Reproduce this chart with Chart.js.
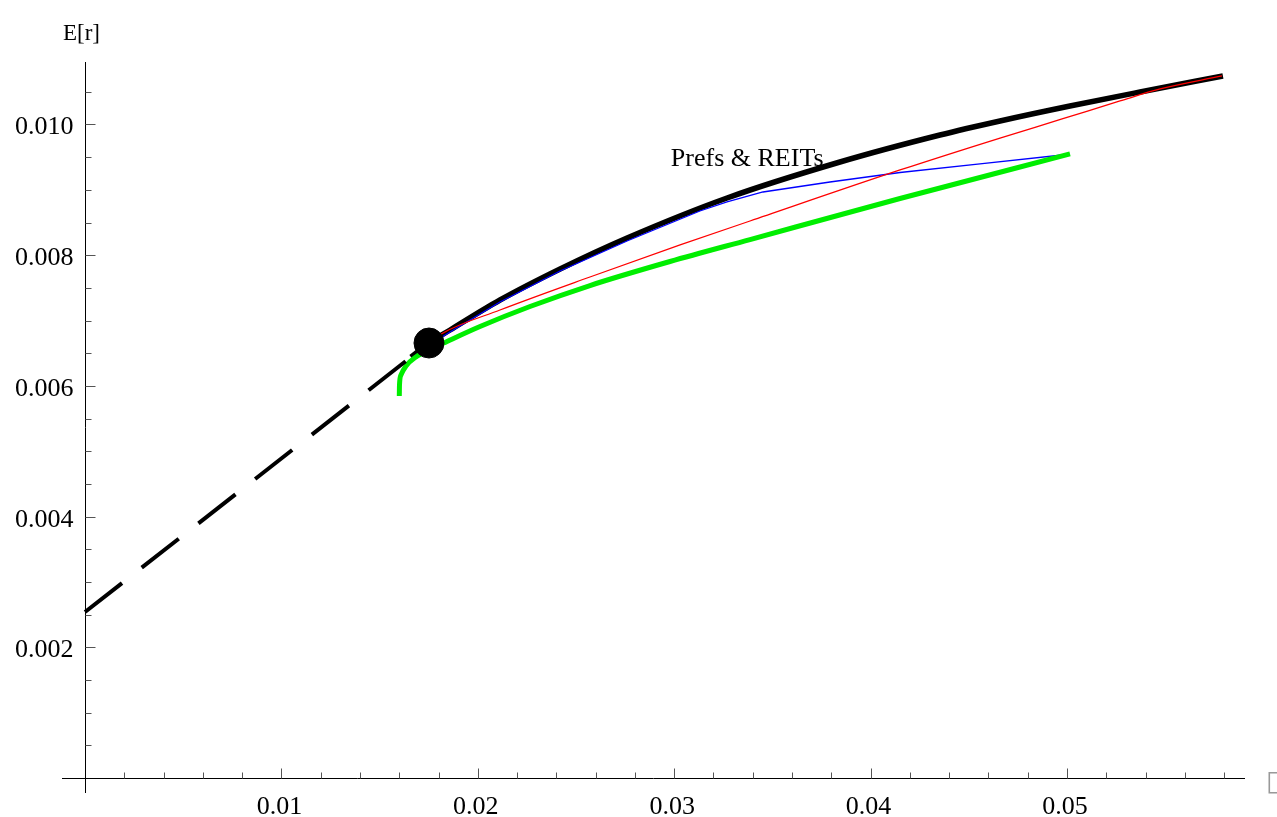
<!DOCTYPE html>
<html>
<head>
<meta charset="utf-8">
<script src="https://cdn.jsdelivr.net/npm/chart.js@4/dist/chart.umd.min.js"></script>
<style>
  html, body { margin: 0; background: #fff; }
  #wrap { width: 1277px; height: 817px; }
</style>
</head>
<body>
<div id="wrap"><canvas id="chart"></canvas></div>
<script>
// Efficient frontiers in (sigma, E[r]) space.
const allAssetsSigma = [0.0166, 0.01752, 0.01859, 0.02113, 0.02419, 0.0276, 0.03269, 0.03844, 0.04353, 0.04659, 0.05015, 0.05372, 0.05794];
const allAssetsMean  = [0.00644, 0.006656, 0.006855, 0.007314, 0.007789, 0.008263, 0.008875, 0.009426, 0.009839, 0.010054, 0.010283, 0.010497, 0.010742];

const prefsSigma = [0.0166, 0.01752, 0.01859, 0.02113, 0.02419, 0.0276, 0.03131, 0.03269, 0.03452, 0.03793, 0.0415, 0.04557, 0.04975];
const prefsMean  = [0.006412, 0.006626, 0.006825, 0.007284, 0.007758, 0.008217, 0.008676, 0.008814, 0.008967, 0.00912, 0.009265, 0.009396, 0.009533];

const reitsSigma = [0.01752, 0.01823, 0.02113, 0.02571, 0.0303, 0.03386, 0.0415, 0.04659, 0.04975, 0.0527, 0.05474, 0.05789];
const reitsMean  = [0.006656, 0.00681, 0.007161, 0.007666, 0.008156, 0.008523, 0.009304, 0.009793, 0.010084, 0.01036, 0.010543, 0.010742];

const baseSigma = [0.016003, 0.016013, 0.01609, 0.016344, 0.016853, 0.017566, 0.018432, 0.020112, 0.022658, 0.025713, 0.029786, 0.033859, 0.041497, 0.050153];
const baseMean  = [0.005845, 0.006014, 0.006167, 0.006305, 0.006442, 0.006557, 0.00668, 0.006909, 0.007215, 0.007536, 0.007903, 0.008239, 0.008867, 0.009549];

// capital market line: risk-free intercept to tangency portfolio
const cmlSigma = [0, 0.017515];
const cmlMean  = [0.00254, 0.006656];
const tangency = { x: 0.017515, y: 0.006656 };

const xMajor = [0.01, 0.02, 0.03, 0.04, 0.05];
const xLabels = ["0.01", "0.02", "0.03", "0.04", "0.05"];
const yMajor = [0.002, 0.004, 0.006, 0.008, 0.010];
const yLabels = ["0.002", "0.004", "0.006", "0.008", "0.010"];
const xMinorStep = 0.002;
const yMinorStep = 0.0005;

const annotation = { text: "Prefs & REITs", x: 0.02983, y: 0.009365 };

const pts = (xs, ys) => xs.map((x, i) => ({ x, y: ys[i] }));

const serif = "'Liberation Serif', 'Times New Roman', serif";

// Mathematica-style axes through the origin, ticks pointing inward
const axesPlugin = {
    id: "mmaAxes",
    beforeDatasetsDraw(chart) {
        const { ctx, chartArea: a } = chart;
        const xs = chart.scales.x, ys = chart.scales.y;
        const x0 = Math.round(xs.getPixelForValue(0)) + 0.5;
        const y0 = Math.round(ys.getPixelForValue(0)) + 0.5;
        ctx.save();
        ctx.lineWidth = 1;
        ctx.strokeStyle = "#000";
        ctx.beginPath();
        ctx.moveTo(a.left, y0); ctx.lineTo(a.right, y0);
        ctx.moveTo(x0, a.top); ctx.lineTo(x0, a.bottom);
        ctx.stroke();

        ctx.strokeStyle = "#555";
        ctx.beginPath();
        for (let v = xMinorStep; v < xs.max; v += xMinorStep) {
            const px = Math.round(xs.getPixelForValue(v)) + 0.5;
            const major = xMajor.some(m => Math.abs(m - v) < 1e-9);
            ctx.moveTo(px, y0); ctx.lineTo(px, y0 - (major ? 10 : 6));
        }
        for (let v = yMinorStep; v < ys.max; v += yMinorStep) {
            const py = Math.round(ys.getPixelForValue(v)) + 0.5;
            const major = yMajor.some(m => Math.abs(m - v) < 1e-9);
            ctx.moveTo(x0, py); ctx.lineTo(x0 + (major ? 10 : 6), py);
        }
        ctx.stroke();

        ctx.fillStyle = "#000";
        ctx.font = "26px " + serif;
        ctx.textAlign = "center";
        ctx.textBaseline = "alphabetic";
        xMajor.forEach((v, i) => ctx.fillText(xLabels[i], xs.getPixelForValue(v) - 2, y0 + 35));
        ctx.textAlign = "right";
        yMajor.forEach((v, i) => ctx.fillText(yLabels[i], x0 - 12, ys.getPixelForValue(v) + 10));

        ctx.textAlign = "left";
        ctx.font = "23px " + serif;
        ctx.fillText("E[r]", 63, 40);
        ctx.fillStyle = "#999";
        ctx.font = "28px 'DejaVu Sans'";
        ctx.fillText("\u25AF", 1266, 790);
        ctx.restore();
    },
    afterDatasetsDraw(chart) {
        const { ctx } = chart;
        ctx.save();
        ctx.fillStyle = "#000";
        ctx.font = "26px " + serif;
        ctx.textAlign = "left";
        ctx.textBaseline = "alphabetic";
        ctx.fillText(annotation.text,
            chart.scales.x.getPixelForValue(annotation.x),
            chart.scales.y.getPixelForValue(annotation.y));
        ctx.restore();
    }
};

new Chart(document.getElementById("chart"), {
    type: "scatter",
    data: {
        datasets: [
            { label: "tangency", data: [tangency], pointRadius: 15, pointHoverRadius: 15,
              backgroundColor: "#000", borderColor: "#000", order: 0 },
            { label: "CML", data: pts(cmlSigma, cmlMean), showLine: true, pointRadius: 0,
              borderColor: "#000", borderWidth: 4, borderDash: [47, 25], borderCapStyle: "butt", order: 1 },
            { label: "base", data: pts(baseSigma, baseMean), showLine: true, pointRadius: 0,
              borderColor: "#00ee00", borderWidth: 5, borderCapStyle: "butt",
              cubicInterpolationMode: "monotone", order: 2 },
            { label: "reits", data: pts(reitsSigma, reitsMean), showLine: true, pointRadius: 0,
              borderColor: "#ff0000", borderWidth: 1.3, cubicInterpolationMode: "monotone", order: 3 },
            { label: "prefs", data: pts(prefsSigma, prefsMean), showLine: true, pointRadius: 0,
              borderColor: "#0000ff", borderWidth: 1.3, tension: 0, order: 4 },
            { label: "all", data: pts(allAssetsSigma, allAssetsMean), showLine: true, pointRadius: 0,
              borderColor: "#000", borderWidth: 5.5, borderCapStyle: "butt",
              cubicInterpolationMode: "monotone", order: 5 },
        ]
    },
    options: {
        responsive: true,
        maintainAspectRatio: false,
        animation: false,
        events: [],
        layout: { autoPadding: false, padding: { left: 62, right: 32, top: 62, bottom: 24 } },
        plugins: { legend: { display: false }, tooltip: { enabled: false } },
        scales: {
            x: { type: "linear", display: false, min: -0.001171, max: 0.059063 },
            y: { type: "linear", display: false, min: -0.0002295, max: 0.010956 },
        }
    },
    plugins: [axesPlugin]
});
</script>
</body>
</html>
